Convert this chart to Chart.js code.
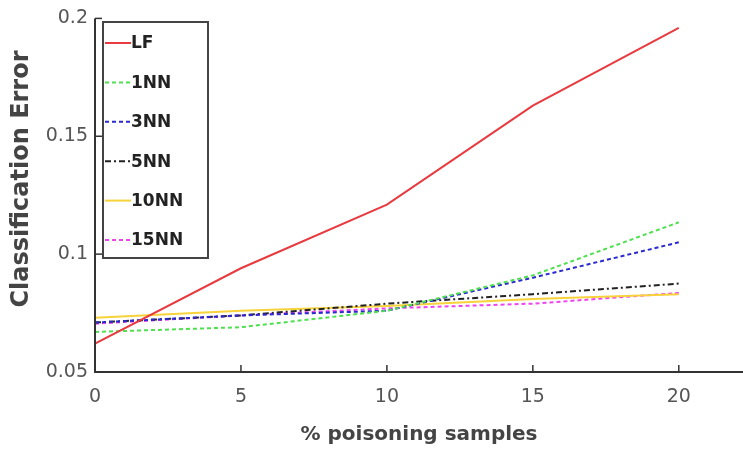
<!DOCTYPE html>
<html><head><meta charset="utf-8">
<script src="https://cdn.jsdelivr.net/npm/chart.js@4/dist/chart.umd.min.js"></script>
<style>html,body{margin:0;padding:0;background:#fff;}#wrap{width:743px;height:451px;position:relative;}</style>
</head><body><div id="wrap"><canvas id="c" width="743" height="451"></canvas></div>
<script>
const xValues = [0, 5, 10, 15, 20];
const xTicks = [0, 5, 10, 15, 20];
const yTicks = [0.05, 0.1, 0.15, 0.2];
const seriesNames = ["LF", "1NN", "3NN", "5NN", "10NN", "15NN"];
const LF    = [0.062, 0.094, 0.121, 0.163, 0.196];
const NN1   = [0.067, 0.069, 0.076, 0.091, 0.1135];
const NN3   = [0.071, 0.074, 0.076, 0.090, 0.105];
const NN5   = [0.071, 0.074, 0.079, 0.083, 0.0875];
const NN10  = [0.073, 0.076, 0.078, 0.081, 0.083];
const NN15  = [0.0705, 0.074, 0.077, 0.079, 0.0835];
const xTitle = '% poisoning samples';
const yTitle = 'Classification Error';

const colors = ["#e83a3f", "#4ee04e", "#2a2ad0", "#222222", "#f7d23a", "#ee44ee"];
const dashes = [[], [4,3], [4,3], [6,3,2,3], [], [4,3]];
const values = [LF, NN1, NN3, NN5, NN10, NN15];

const datasets = seriesNames.map((n, i) => ({
  label: n,
  data: xValues.map((x, j) => ({x: x, y: values[i][j]})),
  borderColor: colors[i],
  borderDash: dashes[i],
  borderWidth: 2,
  pointRadius: 0,
  tension: 0,
  fill: false,
  order: i === 0 ? 0 : 1
}));

const frame = {
  id: 'frame',
  afterDraw(chart) {
    const ctx = chart.ctx, a = chart.chartArea;
    const xs = chart.scales.x, ys = chart.scales.y;
    ctx.save();
    ctx.strokeStyle = '#333';
    ctx.lineWidth = 2;
    ctx.beginPath();
    ctx.moveTo(a.left, a.top); ctx.lineTo(a.left, a.bottom); ctx.lineTo(a.right, a.bottom);
    ctx.stroke();
    ctx.lineWidth = 1.5;
    xTicks.forEach(v => { const p = xs.getPixelForValue(v); ctx.beginPath(); ctx.moveTo(p, a.bottom); ctx.lineTo(p, a.bottom-7); ctx.stroke(); });
    yTicks.forEach(v => { const p = ys.getPixelForValue(v); ctx.beginPath(); ctx.moveTo(a.left, p); ctx.lineTo(a.left+7, p); ctx.stroke(); });
    // y title
    ctx.save();
    ctx.translate(22, 179);
    ctx.rotate(-Math.PI/2);
    ctx.font = 'bold 24px "DejaVu Sans", sans-serif';
    ctx.fillStyle = '#444';
    ctx.textAlign = 'center'; ctx.textBaseline = 'middle';
    ctx.fillText(yTitle, 0, 0);
    ctx.restore();
    // legend box
    const bx = 103, by = 22, bw = 105, bh = 236;
    ctx.fillStyle = '#fff';
    ctx.fillRect(bx, by, bw, bh);
    ctx.strokeStyle = '#444'; ctx.lineWidth = 2;
    ctx.strokeRect(bx, by, bw, bh);
    ctx.font = 'bold 17px "DejaVu Sans", sans-serif';
    ctx.textBaseline = 'middle';
    chart.data.datasets.forEach((d, i) => {
      const y = 43 + i * 39.4;
      ctx.strokeStyle = d.borderColor; ctx.lineWidth = 2; ctx.setLineDash(d.borderDash);
      ctx.beginPath(); ctx.moveTo(105, y); ctx.lineTo(131, y); ctx.stroke();
      ctx.setLineDash([]);
      ctx.fillStyle = '#222';
      ctx.fillText(d.label, 131, y + 1);
    });
    ctx.restore();
  }
};

new Chart(document.getElementById('c'), {
  type: 'line',
  data: { datasets: datasets },
  plugins: [frame],
  options: {
    responsive: false,
    animation: false,
    layout: { padding: { top: 18, right: 0, left: 0, bottom: 0 } },
    plugins: { legend: { display: false }, tooltip: { enabled: false } },
    scales: {
      x: {
        type: 'linear', min: 0, max: 22.2,
        afterBuildTicks: s => { s.ticks = xTicks.map(v => ({value: v})); },
        afterFit: s => { s.height = 79; },
        grid: { display: false, drawTicks: false },
        border: { display: false },
        ticks: { color: '#555', font: { size: 19, family: '"DejaVu Sans", sans-serif' }, padding: 14, maxRotation: 0 },
        title: { display: true, text: xTitle, color: '#444', font: { size: 20, weight: 'bold', family: '"DejaVu Sans", sans-serif' }, padding: { top: 6 } }
      },
      y: {
        type: 'linear', min: 0.05, max: 0.2,
        afterBuildTicks: s => { s.ticks = yTicks.map(v => ({value: v})); },
        afterFit: s => { s.width = 95; },
        grid: { display: false, drawTicks: false },
        border: { display: false },
        ticks: { color: '#555', font: { size: 19, family: '"DejaVu Sans", sans-serif' }, padding: 7,
          callback: v => String(Math.round(v*100)/100) },
        title: { display: false }
      }
    }
  }
});
</script></body></html>
